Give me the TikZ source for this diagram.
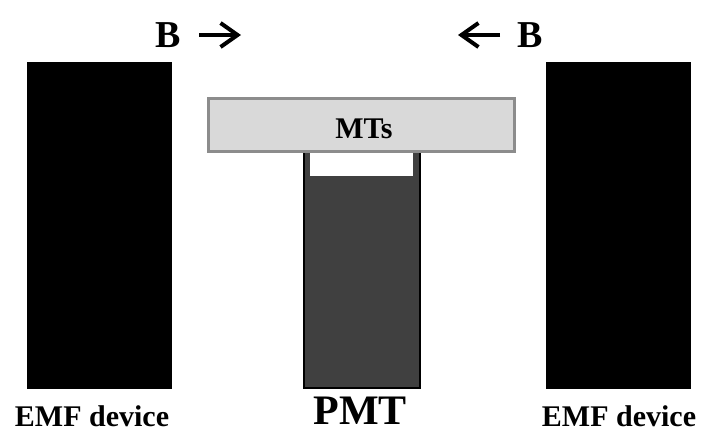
\documentclass[tikz,border=0pt]{standalone}
\usepackage{fontspec}
\setmainfont{Liberation Serif}
\usetikzlibrary{arrows.meta}
\definecolor{mtfill}{HTML}{D9D9D9}
\definecolor{mtedge}{HTML}{8C8C8C}
\definecolor{pmtfill}{HTML}{404040}
\tikzset{
  device/.style={fill=black, draw=black, line width=1pt},
  lbl/.style={font=\bfseries, inner sep=0pt, anchor=base},
  field/.style={line width=4pt, -{Straight Barb[length=17pt, width=24pt, line width=4pt]}},
}
\begin{document}
\begin{tikzpicture}[x=1pt, y=-1pt]
  \useasboundingbox (0,0) rectangle (702,432);
  \fill[white] (0,0) rectangle (702,432);

  % EMF devices
  \path[device] (27,62) rectangle (171,388);
  \path[device] (546,62) rectangle (690,388);
  \node[lbl, font=\fontsize{30}{36}\selectfont\bfseries] (emfL) at (92,426) {EMF device};
  \node[lbl, font=\fontsize{30}{36}\selectfont\bfseries] (emfR) at (619,426) {EMF device};

  % photomultiplier tube with its window
  \draw[fill=pmtfill, draw=black, line width=2pt] (304,152) rectangle (420,388);
  \fill[white] (310,152) rectangle (413,176);
  \node[lbl, font=\fontsize{42}{50}\selectfont\bfseries] (pmt) at (360,424) {PMT};

  % sample plate
  \node[draw=mtedge, fill=mtfill, line width=3pt, minimum width=306pt, minimum height=53pt,
        inner sep=0pt] (mts) at (361.5,125) {};
  \node[lbl, font=\fontsize{30}{36}\selectfont\bfseries] (mtsl) at (364,138) {MTs};

  % field direction labels
  \node[lbl, font=\fontsize{38}{44}\selectfont\bfseries] (bL) at (168,47) {B};
  \node[lbl, font=\fontsize{38}{44}\selectfont\bfseries] (bR) at (530,47) {B};
  \coordinate (aL1) at (199,35);
  \coordinate (aL2) at (241,35);
  \coordinate (aR1) at (500,35);
  \coordinate (aR2) at (458,35);
  \draw[field] (aL1) -- (aL2);
  \draw[field] (aR1) -- (aR2);
\end{tikzpicture}
\end{document}
